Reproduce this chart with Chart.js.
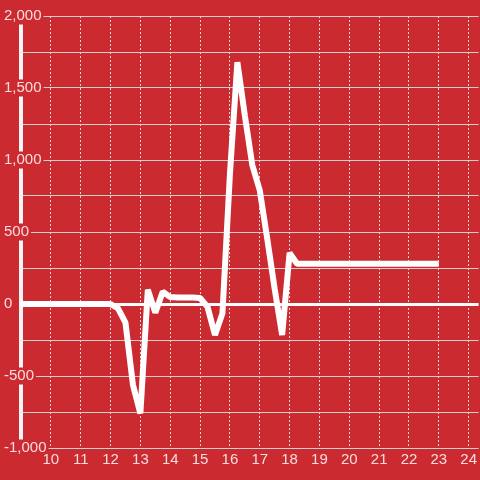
<!DOCTYPE html>
<html>
<head>
<meta charset="utf-8">
<script src="https://cdn.jsdelivr.net/npm/chart.js@4/dist/chart.umd.min.js"></script>
<style>
  html, body { margin: 0; padding: 0; background: #cb2a30; }
  canvas { display: block; }
</style>
</head>
<body>
<canvas id="lineChart" width="480" height="480"></canvas>
<script>
// Quarter-hour readings
const times = [9, 9.25, 9.5, 9.75, 10, 10.25, 10.5, 10.75, 11, 11.25, 11.5, 11.75,
  12, 12.25, 12.5, 12.75, 13, 13.25, 13.5, 13.75, 14, 14.25, 14.5, 14.75,
  15, 15.25, 15.5, 15.75, 16, 16.25, 16.5, 16.75, 17, 17.25, 17.5, 17.75,
  18, 18.25, 18.5, 18.75, 19, 19.25, 19.5, 19.75, 20, 20.25, 20.5, 20.75,
  21, 21.25, 21.5, 21.75, 22, 22.25, 22.5, 22.75, 23];
const values = [0, 0, 0, 0, 0, 0, 0, 0, 0, 0, 0, 0,
  0, -30, -130, -560, -760, 100, -60, 85, 48, 45, 45, 45,
  42, -20, -215, -65, 900, 1680, 1310, 965, 790, 455, 105, -215,
  355, 280, 280, 280, 280, 280, 280, 280, 280, 280, 280, 280,
  280, 280, 280, 280, 280, 280, 280, 280, 280];
const xTicks = [10, 11, 12, 13, 14, 15, 16, 17, 18, 19, 20, 21, 22, 23, 24];

const bgColor = "#cb2a30";
const labelColor = "rgba(255, 240, 240, 0.9)";

Chart.defaults.font.family = "'Liberation Sans', Arial, sans-serif";
Chart.defaults.font.size = 15;

// paint the red background behind everything
const background = {
  id: "background",
  beforeDraw(chart) {
    const ctx = chart.ctx;
    ctx.save();
    ctx.fillStyle = bgColor;
    ctx.fillRect(0, 0, chart.width, chart.height);
    ctx.restore();
  }
};

const ctx = document.getElementById("lineChart").getContext("2d");
new Chart(ctx, {
  type: "line",
  data: {
    datasets: [{
      data: times.map((t, i) => ({ x: t, y: values[i] })),
      borderColor: "#ffffff",
      borderWidth: 6,
      borderJoinStyle: "bevel",
      pointRadius: 0,
      tension: 0,
      fill: false,
    }],
  },
  options: {
    responsive: false,
    animation: false,
    layout: { padding: { top: 16, left: 0, right: 0, bottom: 0 } },
    plugins: {
      legend: { display: false },
      tooltip: { enabled: false },
    },
    scales: {
      x: {
        type: "linear",
        min: 9,
        max: 24.333,
        afterBuildTicks: (scale) => { scale.ticks = xTicks.map(v => ({ value: v })); },
        afterFit: (scale) => { scale.height = 32; },
        border: { display: false, dash: [2, 2] },
        grid: {
          color: "rgba(235, 235, 235, 0.9)",
          lineWidth: 1,
          drawTicks: false,
          borderDash: [2, 2],
        },
        // labels on their own layer so the y label backdrops don't clip them
        ticks: { color: labelColor, padding: 3, maxRotation: 0, autoSkip: false, z: 1 },
      },
      y: {
        position: "left",
        min: -1000,
        max: 2000,
        afterFit: (scale) => { scale.width = 21; },
        border: { display: true, color: "#f4f4f4", width: 4 },
        grid: {
          drawTicks: false,
          color: (c) => (c.tick && c.tick.value === 0 ? "#ffffff" : "rgba(215, 215, 215, 0.95)"),
          lineWidth: (c) => (c.tick && c.tick.value === 0 ? 3 : 1),
        },
        ticks: {
          stepSize: 250,
          autoSkip: false,
          mirror: true,
          crossAlign: "near",
          padding: -17,
          color: labelColor,
          font: { size: 15, lineHeight: 1 },
          showLabelBackdrop: (c) => c.tick.value % 500 === 0,
          backdropColor: bgColor,
          backdropPadding: { top: 1, bottom: 1, left: 2, right: 2 },
          callback: (v) => (v % 500 === 0 ? v.toLocaleString("en-US") : ""),
        },
      },
    },
  },
  plugins: [background],
});
</script>
</body>
</html>
